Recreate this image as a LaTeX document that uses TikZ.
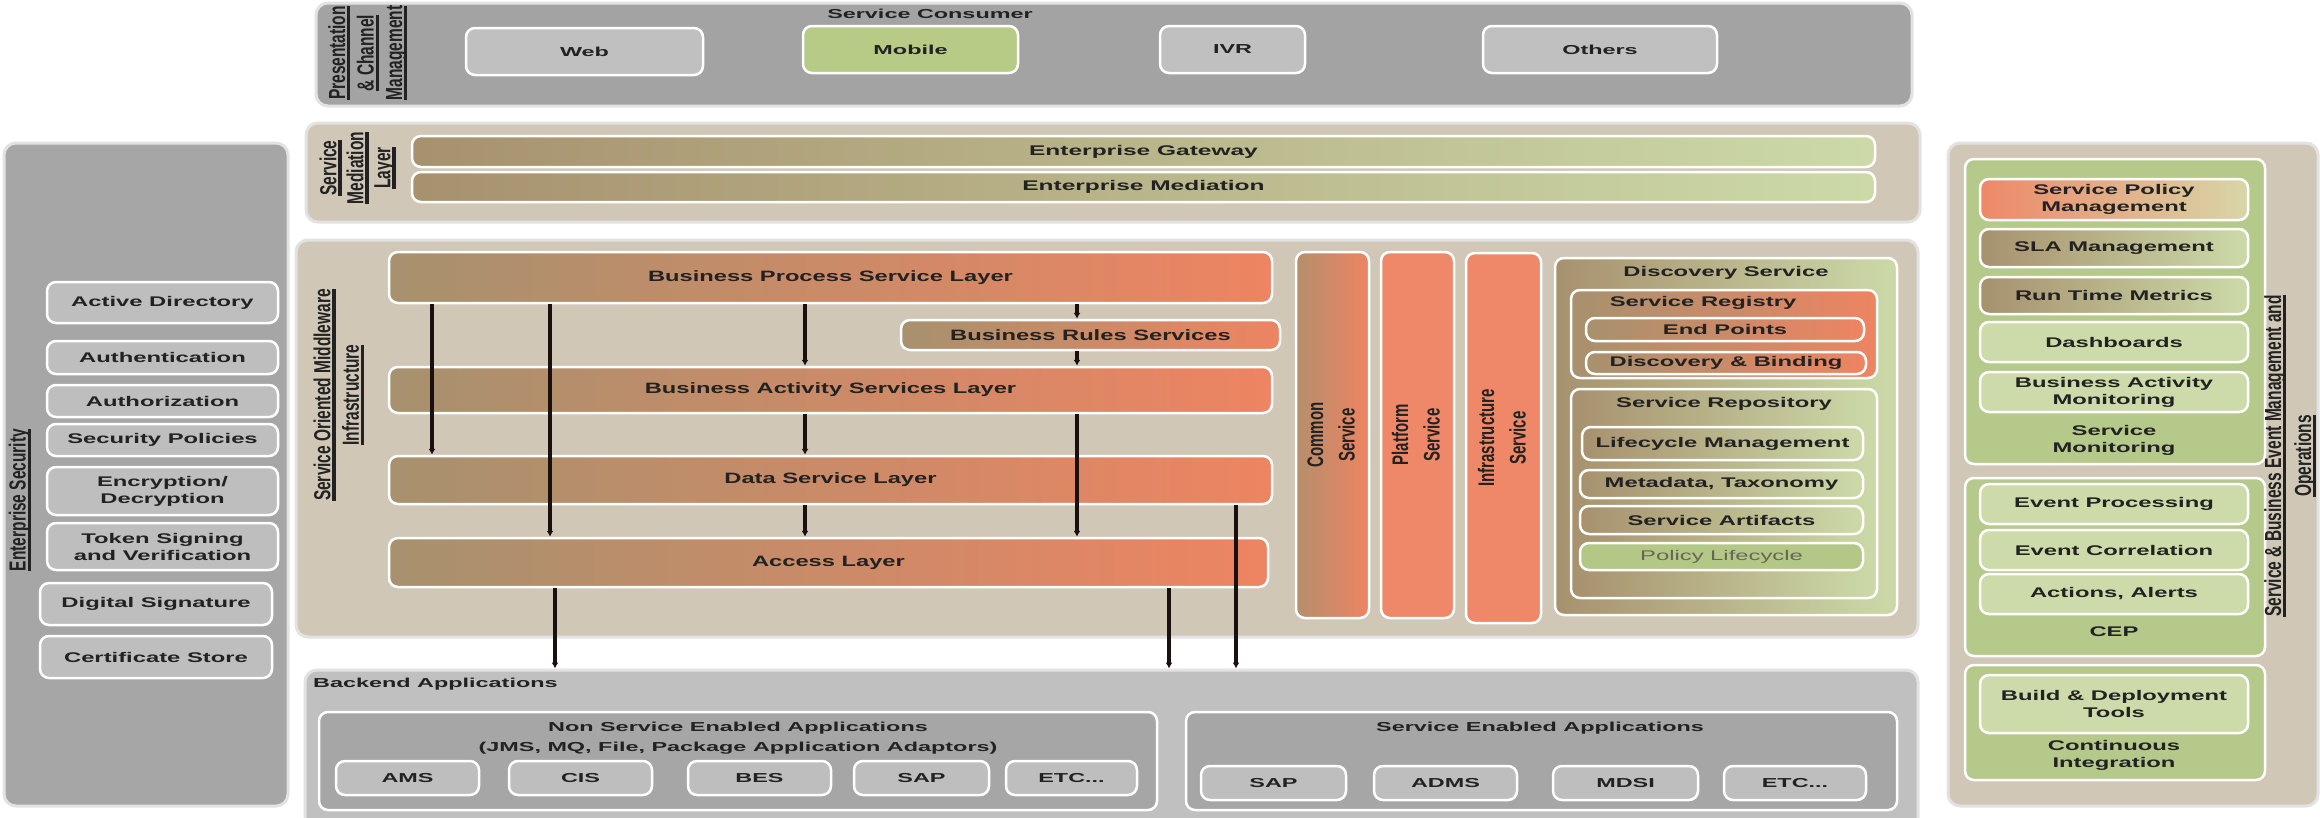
\documentclass[tikz,border=0pt]{standalone}
\usepackage{fontspec}
\usepackage{graphicx}
\setmainfont{Liberation Sans}
\newfontfamily\fN[FakeStretch=1.8]{Liberation Sans}
\newfontfamily\fG[FakeStretch=1.75]{Liberation Sans}
\newfontfamily\fM[FakeStretch=1.58]{Liberation Sans}
\newfontfamily\fW[FakeStretch=1.7]{Liberation Sans}
\usetikzlibrary{fit,arrows.meta}
\definecolor{cGrayP}{HTML}{A3A3A3}
\definecolor{cGrayB}{HTML}{C0C0C0}
\definecolor{cGrayS}{HTML}{A6A6A6}
\definecolor{cGrayBox}{HTML}{BEBEBE}
\definecolor{cMobile}{HTML}{B7CB87}
\definecolor{cBeige}{HTML}{D0C7B7}
\definecolor{cTan}{HTML}{A7916E}
\definecolor{cSalmon}{HTML}{EE8462}
\definecolor{cSalmonL}{HTML}{EE8868}
\definecolor{cGreenL}{HTML}{CCDAA8}
\definecolor{cGreenG}{HTML}{B5C98A}
\definecolor{cGreenItem}{HTML}{CDDBAA}
\definecolor{cPolicy}{HTML}{B3C886}
\definecolor{cPale}{HTML}{D8D6A8}
\definecolor{cShadow}{HTML}{E2E2E2}
\definecolor{cTxt}{HTML}{222222}
\definecolor{cTxtL}{HTML}{666655}
\definecolor{cArrow}{HTML}{1A1010}
\newcommand\tN{\fN\bfseries\fontsize{13}{20}\selectfont}
\newcommand\tG{\fG\bfseries\fontsize{14}{18}\selectfont}
\newcommand\tM{\fM\bfseries\fontsize{15}{18}\selectfont}
\newcommand\tW{\fW\bfseries\fontsize{14}{17}\selectfont}
\newcommand\tP{\fW\fontsize{14}{17}\selectfont}
\newcommand\ulbar[1]{\sbox0{#1}\rlap{\rule[-3.5pt]{\wd0}{2.2pt}}\usebox0}
\newcommand\vlab[2]{\rotatebox{90}{\scalebox{1}[1.5]{\bfseries\fontsize{15.5}{#1}\selectfont\begin{tabular}{@{}c@{}}#2\end{tabular}}}}
\newcommand\vcol[1]{\rotatebox{90}{\scalebox{1}[1.5]{\bfseries\fontsize{15}{21}\selectfont\begin{tabular}{@{}c@{}}#1\end{tabular}}}}
% box with its text as a separate, centred node
\newcommand\bx[5]{\node[#1,fit={#2}] (#3) {}; \node[txt,#4] (#3T) at (#3.center) {#5};}
\begin{document}
\begin{tikzpicture}[x=1pt,y=-1pt,
  panel/.style={draw=cShadow,line width=3pt,rounded corners=12pt,inner sep=0pt},
  box/.style={draw=white,line width=2.5pt,rounded corners=9pt,inner sep=0pt},
  ml/.style={align=center},
  bar/.style={box,left color=cTan,right color=cSalmon},
  tg/.style={box,left color=cTan,right color=cGreenL},
  txt/.style={inner sep=0pt,text=cTxt},
  arr/.style={draw=cArrow,line width=3.5pt,-{Latex[length=6pt,width=7pt]}}]
\useasboundingbox[fill=white] (0,0) rectangle (2320,817);

% ---------- Presentation ----------
\node[panel,fill=cGrayP,fit={(316,3)(1912,106)}] (pres) {};
\node[txt] (presLab) at (368,53) {\vlab{19}{\ulbar{Presentation}\\\ulbar{\& Channel}\\\ulbar{Management}}};
\node[txt,font=\tN] (sc) at (930,14) {Service Consumer};
\bx{box,fill=cGrayB}{(466,28)(703,75)}{web}{font=\tN}{Web}
\bx{box,fill=cMobile}{(803,26)(1018,73)}{mobile}{font=\tN}{Mobile}
\bx{box,fill=cGrayB}{(1160,26)(1305,73)}{ivr}{font=\tN}{IVR}
\bx{box,fill=cGrayB}{(1483,26)(1717,73)}{others}{font=\tN}{Others}

% ---------- Mediation ----------
\node[panel,fill=cBeige,fit={(306,123)(1920,222)}] (med) {};
\node[txt] (medLab) at (358,168) {\vlab{18}{\ulbar{Service}\\\ulbar{Mediation}\\\ulbar{Layer}}};
\bx{tg}{(412,136)(1875,167)}{gw}{font=\tG}{Enterprise Gateway}
\bx{tg}{(412,172)(1875,202)}{em}{font=\tG}{Enterprise Mediation}

% ---------- SOMI ----------
\node[panel,fill=cBeige,fit={(296,240)(1918,637)}] (somi) {};
\node[txt] (somiLab) at (339,395) {\vlab{19}{\ulbar{Service Oriented Middleware}\\\ulbar{Infrastructure}}};
\bx{bar}{(389,252)(1272,303)}{bpsl}{font=\tM}{Business Process Service Layer}
\bx{bar}{(901,320)(1280,350)}{brs}{font=\tM}{Business Rules Services}
\bx{bar}{(389,367)(1272,413)}{basl}{font=\tM}{Business Activity Services Layer}
\bx{bar}{(389,456)(1272,504)}{dsl}{font=\tM}{Data Service Layer}
\bx{bar}{(389,538)(1268,587)}{acc}{font=\tM}{Access Layer}
\bx{box,left color=cTan!80!cSalmon,right color=cSalmon}{(1296,252)(1369,618)}{common}{}{\vcol{Common\\Service}}
\bx{box,fill=cSalmonL}{(1381,252)(1454,618)}{platform}{}{\vcol{Platform\\Service}}
\bx{box,fill=cSalmonL}{(1466,253)(1541,623)}{infra}{}{\vcol{Infrastructure\\Service}}
\node[tg,fit={(1555,258)(1897,615)}] (disc) {};
\node[txt,font=\tW] (discT) at (1726,273) {Discovery Service};
\node[bar,fit={(1571,290)(1877,378)}] (reg) {};
\node[txt,font=\tW] (regT) at (1703,303) {Service Registry};
\bx{bar}{(1586,318)(1864,341)}{ep}{font=\tW}{End Points}
\bx{bar}{(1586,352)(1866,374)}{db}{font=\tW}{Discovery \& Binding}
\node[tg,fit={(1571,389)(1877,598)}] (repo) {};
\node[txt,font=\tW] (repoT) at (1724,404) {Service Repository};
\bx{tg}{(1582,427)(1863,460)}{lm}{font=\tW}{Lifecycle Management}
\bx{tg}{(1580,470)(1863,498)}{mt}{font=\tW}{Metadata, Taxonomy}
\bx{tg}{(1580,506)(1863,534)}{sa}{font=\tW}{Service Artifacts}
\bx{box,fill=cPolicy}{(1580,543)(1863,570)}{pl}{text=cTxtL,font=\tP}{Policy Lifecycle}

% ---------- Security ----------
\node[panel,fill=cGrayS,fit={(4,143)(288,806)}] (sec) {};
\node[txt] (secLab) at (20,500) {\vlab{19}{\ulbar{Enterprise Security}}};
\bx{box,fill=cGrayBox}{(47,282)(278,323)}{ad}{font=\tW}{Active Directory}
\bx{box,fill=cGrayBox}{(47,341)(278,374)}{authn}{font=\tW}{Authentication}
\bx{box,fill=cGrayBox}{(47,385)(278,417)}{authz}{font=\tW}{Authorization}
\bx{box,fill=cGrayBox}{(47,424)(278,456)}{secpol}{font=\tW}{Security Policies}
\bx{box,fill=cGrayBox}{(47,467)(278,515)}{enc}{ml,font=\tW}{Encryption/\\Decryption}
\bx{box,fill=cGrayBox}{(47,523)(278,570)}{tok}{ml,font=\tW}{Token Signing\\and Verification}
\bx{box,fill=cGrayBox}{(40,583)(272,625)}{dig}{font=\tW}{Digital Signature}
\bx{box,fill=cGrayBox}{(40,636)(272,678)}{cert}{font=\tW}{Certificate Store}

% ---------- Operations ----------
\node[panel,fill=cBeige,fit={(1948,143)(2318,806)}] (ops) {};
\node[box,fill=cGreenG,fit={(1965,159)(2265,464)}] (smg) {};
\bx{box,left color=cSalmonL,right color=cPale}{(1980,179)(2248,220)}{spm}{ml,font=\tW}{Service Policy\\Management}
\bx{tg}{(1980,229)(2248,267)}{sla}{font=\tW}{SLA Management}
\bx{tg}{(1980,277)(2248,314)}{rtm}{font=\tW}{Run Time Metrics}
\bx{box,fill=cGreenItem}{(1980,322)(2248,362)}{dash}{font=\tW}{Dashboards}
\bx{box,fill=cGreenItem}{(1980,372)(2248,412)}{bam}{ml,font=\tW}{Business Activity\\Monitoring}
\node[txt,ml,font=\tW] (smT) at (2114,440) {Service\\Monitoring};
\node[box,fill=cGreenG,fit={(1965,478)(2265,656)}] (cepg) {};
\bx{box,fill=cGreenItem}{(1980,484)(2248,524)}{evp}{font=\tW}{Event Processing}
\bx{box,fill=cGreenItem}{(1980,530)(2248,570)}{evc}{font=\tW}{Event Correlation}
\bx{box,fill=cGreenItem}{(1980,574)(2248,614)}{aa}{font=\tW}{Actions, Alerts}
\node[txt,font=\tW] (cepT) at (2114,632) {CEP};
\node[box,fill=cGreenG,fit={(1965,665)(2265,780)}] (cig) {};
\bx{box,fill=cGreenItem}{(1980,675)(2248,733)}{bdt}{ml,font=\tW}{Build \& Deployment\\Tools}
\node[txt,ml,font=\tW] (ciT) at (2114,755) {Continuous\\Integration};
\node[txt] (opsLab) at (2290,456) {\vlab{20}{\ulbar{Service \& Business Event Management and}\\\ulbar{Operations}}};

% ---------- Backend ----------
\node[panel,fill=cGrayB,fit={(305,670)(1918,830)}] (back) {};
\node[txt,anchor=west,font=\tN] (backT) at (313,684) {Backend Applications};
\node[box,fill=cGrayS,fit={(319,712)(1157,810)}] (nse) {};
\node[txt,ml,font=\tN] (nseT) at (738,738) {Non Service Enabled Applications\\(JMS, MQ, File, Package Application Adaptors)};
\bx{box,fill=cGrayBox}{(336,761)(479,795)}{ams}{font=\tN}{AMS}
\bx{box,fill=cGrayBox}{(509,761)(652,795)}{cis}{font=\tN}{CIS}
\bx{box,fill=cGrayBox}{(688,761)(831,795)}{bes}{font=\tN}{BES}
\bx{box,fill=cGrayBox}{(854,761)(989,795)}{sapa}{font=\tN}{SAP}
\bx{box,fill=cGrayBox}{(1006,761)(1137,795)}{etca}{font=\tN}{ETC...}
\node[box,fill=cGrayS,fit={(1186,712)(1897,810)}] (se) {};
\node[txt,font=\tN] (seT) at (1540,728) {Service Enabled Applications};
\bx{box,fill=cGrayBox}{(1201,766)(1346,800)}{sapb}{font=\tN}{SAP}
\bx{box,fill=cGrayBox}{(1374,766)(1517,800)}{adms}{font=\tN}{ADMS}
\bx{box,fill=cGrayBox}{(1553,766)(1698,800)}{mdsi}{font=\tN}{MDSI}
\bx{box,fill=cGrayBox}{(1724,766)(1866,800)}{etcb}{font=\tN}{ETC...}

% ---------- Connectors ----------
\coordinate (xa) at (432,0);
\coordinate (xb) at (550,0);
\coordinate (xc) at (805,0);
\coordinate (xd) at (1077,0);
\coordinate (xe) at (1236,0);
\coordinate (xf) at (555,0);
\coordinate (xg) at (1169,0);
\draw[arr] (bpsl.south -| xa) -- (dsl.north -| xa);
\draw[arr] (bpsl.south -| xb) -- (acc.north -| xb);
\draw[arr] (bpsl.south -| xc) -- (basl.north -| xc);
\draw[arr] (basl.south -| xc) -- (dsl.north -| xc);
\draw[arr] (dsl.south -| xc) -- (acc.north -| xc);
\draw[arr] (bpsl.south -| xd) -- (brs.north -| xd);
\draw[arr] (brs.south -| xd) -- (basl.north -| xd);
\draw[arr] (basl.south -| xd) -- (acc.north -| xd);
\draw[arr] (dsl.south -| xe) -- (back.north -| xe);
\draw[arr] (acc.south -| xf) -- (back.north -| xf);
\draw[arr] (acc.south -| xg) -- (back.north -| xg);
\end{tikzpicture}
\end{document}
